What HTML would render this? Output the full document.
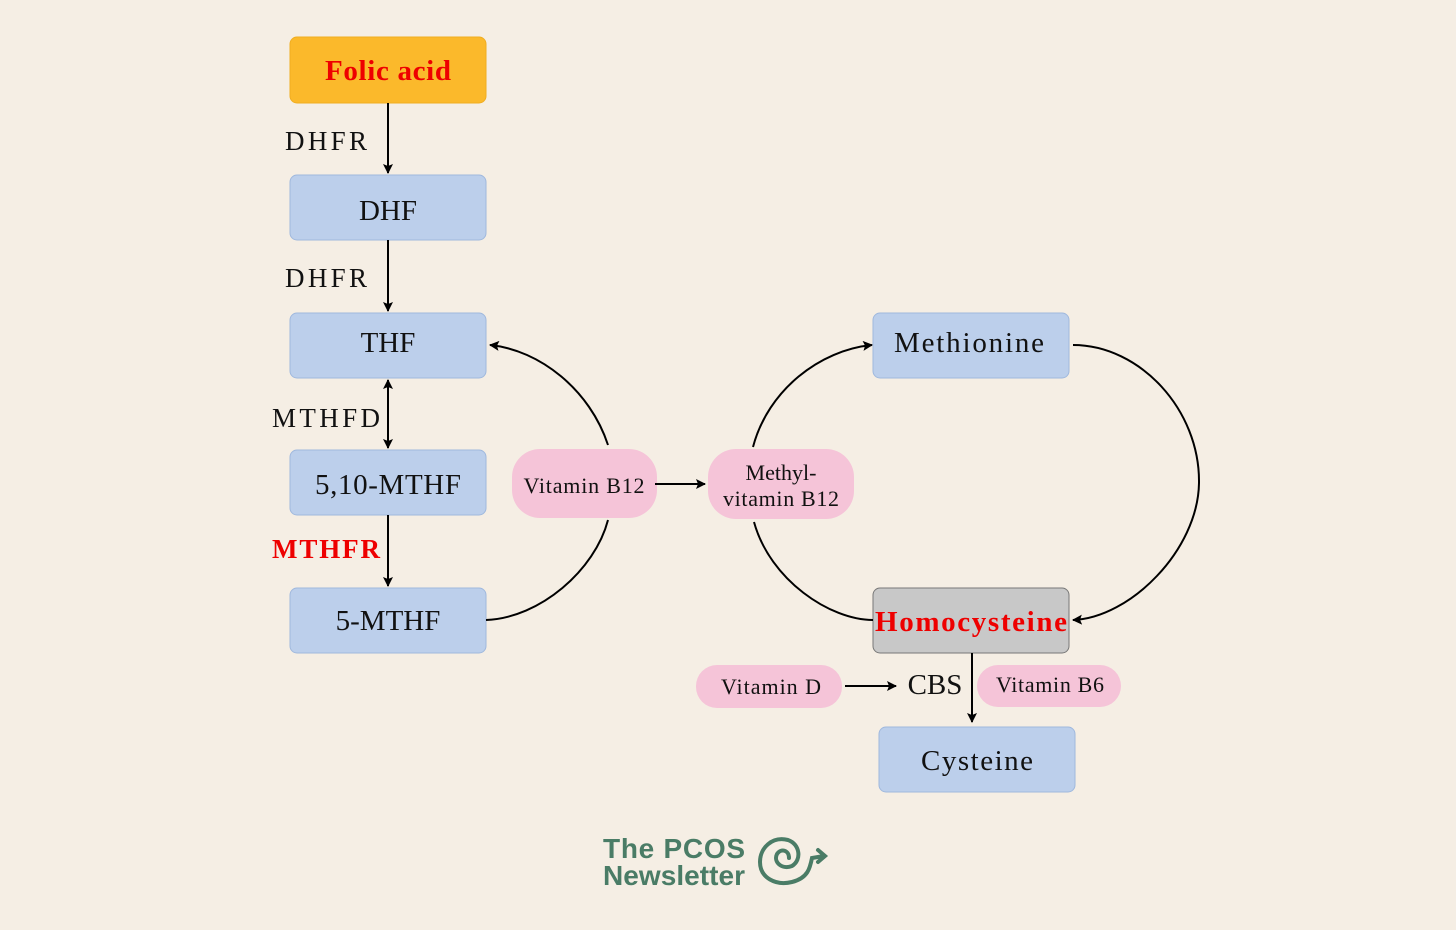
<!DOCTYPE html>
<html><head><style>
html,body{margin:0;padding:0;background:#f5eee4;}
svg{display:block}
text{font-family:"Liberation Serif",serif;}
</style></head><body>
<svg width="1456" height="930" viewBox="0 0 1456 930" xmlns="http://www.w3.org/2000/svg">
<defs>
<marker id="a" viewBox="0 0 10 10" refX="9" refY="5" markerWidth="10" markerHeight="10" markerUnits="userSpaceOnUse" orient="auto-start-reverse"><path d="M0,0 L10,5 L0,10 L2,5 z" fill="#000"/></marker>
</defs>
<rect width="1456" height="930" fill="#f5eee4"/>
<g stroke="#9fb8dd" stroke-width="1" fill="#bccfeb">
<rect x="290" y="37" width="196" height="66" rx="7" fill="#fbb92b" stroke="#f0ad20"/>
<rect x="290" y="175" width="196" height="65" rx="7"/>
<rect x="290" y="313" width="196" height="65" rx="7"/>
<rect x="290" y="450" width="196" height="65" rx="7"/>
<rect x="290" y="588" width="196" height="65" rx="7"/>
<rect x="873" y="313" width="196" height="65" rx="7"/>
<rect x="873" y="588" width="196" height="65" rx="7" fill="#c8c8c8" stroke="#777"/>
<rect x="879" y="727" width="196" height="65" rx="7"/>
</g>
<g fill="#f5c4d8">
<rect x="512" y="449" width="145" height="69" rx="28"/>
<rect x="708" y="449" width="146" height="70" rx="28"/>
<rect x="696" y="665" width="146" height="43" rx="21"/>
<rect x="977" y="665" width="144" height="42" rx="21"/>
</g>
<g stroke="#000" stroke-width="2" fill="none">
<line x1="388" y1="103" x2="388" y2="173" marker-end="url(#a)"/>
<line x1="388" y1="240" x2="388" y2="311" marker-end="url(#a)"/>
<line x1="388" y1="380" x2="388" y2="448" marker-start="url(#a)" marker-end="url(#a)"/>
<line x1="388" y1="515" x2="388" y2="586" marker-end="url(#a)"/>
<line x1="655" y1="484" x2="705" y2="484" marker-end="url(#a)"/>
<line x1="845" y1="686" x2="896" y2="686" marker-end="url(#a)"/>
<line x1="972" y1="653" x2="972" y2="722" marker-end="url(#a)"/>
<path d="M608,445 C590,390 540,350 490,345" marker-end="url(#a)"/>
<path d="M486,620 C540,618 595,570 608,520"/>
<path d="M753,447 C768,390 820,350 872,345" marker-end="url(#a)"/>
<path d="M754,522 C770,580 830,620 873,620"/>
<path d="M1073,345 C1140,345 1200,410 1199,483 C1198,550 1130,618 1073,620" marker-end="url(#a)"/>
</g>
<g font-size="29" text-anchor="middle" fill="#111">
<text x="388" y="80" fill="#e00" font-weight="bold" textLength="126">Folic acid</text>
<text x="388" y="220">DHF</text>
<text x="388" y="352">THF</text>
<text x="388" y="494" textLength="146">5,10-MTHF</text>
<text x="388" y="630">5-MTHF</text>
<text x="969" y="352" textLength="150">Methionine</text>
<text x="971" y="631" fill="#e00" font-weight="bold" textLength="192">Homocysteine</text>
<text x="977" y="770" textLength="112">Cysteine</text>
<text x="935" y="694">CBS</text>
</g>
<g font-size="27" text-anchor="middle" fill="#111">
<text x="326" y="150" textLength="82">DHFR</text>
<text x="326" y="287" textLength="82">DHFR</text>
<text x="326" y="427" textLength="108">MTHFD</text>
<text x="326" y="558" fill="#e00" font-weight="bold" textLength="108">MTHFR</text>
</g>
<g font-size="22" text-anchor="middle" fill="#111">
<text x="584" y="493" textLength="121">Vitamin B12</text>
<text x="781" y="480">Methyl-</text>
<text x="781" y="506" textLength="116">vitamin B12</text>
<text x="771" y="694" textLength="100">Vitamin D</text>
<text x="1050" y="692" textLength="108">Vitamin B6</text>
</g>
<g fill="#4a7c66" font-weight="bold" font-size="28">
<text x="603" y="858" textLength="142" style="font-family:'Liberation Sans',sans-serif">The PCOS</text>
<text x="603" y="885" textLength="142" style="font-family:'Liberation Sans',sans-serif">Newsletter</text>
</g>
<g stroke="#4a7c66" stroke-width="4" fill="none" stroke-linecap="round">
<path d="M789,858 C789,850 781,848 777,854 C773,862 782,870 792,866 C802,860 800,844 788,840 C772,836 760,848 760,862 C760,878 776,886 792,882 C808,878 810,868 812,858 L824,856"/>
<path d="M818,850 L825,856 L818,862"/>
</g>
</svg>
</body></html>
